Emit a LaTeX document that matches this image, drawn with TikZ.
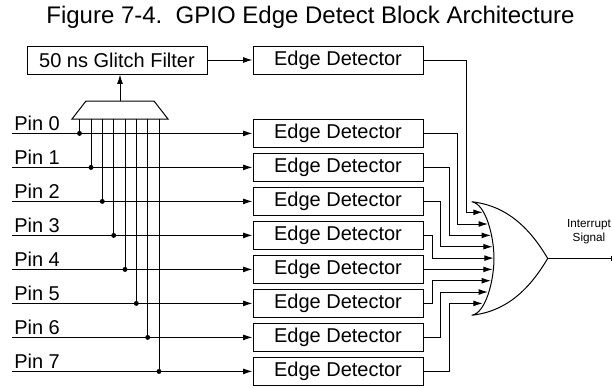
\documentclass[tikz,border=0pt]{standalone}
\usepackage{fontspec}
\setmainfont{Liberation Sans}
\usetikzlibrary{arrows.meta}
\tikzset{
  block/.style={draw, line width=0.75pt, minimum width=127.5pt, minimum height=21pt, inner sep=0pt, font=\fontsize{15}{18}\selectfont},
  pinlabel/.style={anchor=base west, inner sep=0pt, font=\fontsize{15}{18}\selectfont},
  tap/.style={circle, fill=black, inner sep=0pt, minimum size=3.7pt},
  sig/.style={line width=0.75pt, >={Latex[length=7pt,width=4.4pt]}, ->},
  wire/.style={line width=0.75pt}
}
\begin{document}
\begin{tikzpicture}[x=0.75pt,y=-0.75pt]
  \useasboundingbox (0,0) rectangle (612,387);
  \node [anchor=base, inner sep=0pt, font=\fontsize{18}{21}\selectfont] (title) at (310.5,23.5) {Figure 7-4.\ \ GPIO Edge Detect Block Architecture};
  % filter and its detector
  \node [block, minimum width=135pt] (filter) at (117,60) {50 ns Glitch Filter};
  \node [block] (d) at (338,60) {Edge Detector};
  % detectors
  \node [block] (d0) at (338,133.4) {Edge Detector};
  \node [block] (d1) at (338,167.4) {Edge Detector};
  \node [block] (d2) at (338,201.4) {Edge Detector};
  \node [block] (d3) at (338,235.4) {Edge Detector};
  \node [block] (d4) at (338,269.4) {Edge Detector};
  \node [block] (d5) at (338,303.4) {Edge Detector};
  \node [block] (d6) at (338,337.4) {Edge Detector};
  \node [block] (d7) at (338,371.4) {Edge Detector};
  % pins
  \node [pinlabel] (p0) at (14,130) {Pin 0};
  \node [pinlabel] (p1) at (14,164) {Pin 1};
  \node [pinlabel] (p2) at (14,198) {Pin 2};
  \node [pinlabel] (p3) at (14,232) {Pin 3};
  \node [pinlabel] (p4) at (14,266) {Pin 4};
  \node [pinlabel] (p5) at (14,300) {Pin 5};
  \node [pinlabel] (p6) at (14,334) {Pin 6};
  \node [pinlabel] (p7) at (14,368) {Pin 7};
  \coordinate (s0) at (12,133.4);
  \coordinate (s1) at (12,167.4);
  \coordinate (s2) at (12,201.4);
  \coordinate (s3) at (12,235.4);
  \coordinate (s4) at (12,269.4);
  \coordinate (s5) at (12,303.4);
  \coordinate (s6) at (12,337.4);
  \coordinate (s7) at (12,371.4);
  \draw [sig] (s0) -- (d0.west);
  \draw [sig] (s1) -- (d1.west);
  \draw [sig] (s2) -- (d2.west);
  \draw [sig] (s3) -- (d3.west);
  \draw [sig] (s4) -- (d4.west);
  \draw [sig] (s5) -- (d5.west);
  \draw [sig] (s6) -- (d6.west);
  \draw [sig] (s7) -- (d7.west);
  % mux
  \coordinate (mt) at (120,101);
  \draw [wire] (86,101) -- (154,101) -- (168,119) -- (72,119) -- cycle;
  \draw [sig] (mt) -- (mt |- filter.south);
  \draw [sig] (filter.east) -- (d.west);
  \node [tap] (t0) at (79.5,133.4) {};
  \node [tap] (t1) at (91,167.4) {};
  \node [tap] (t2) at (102.3,201.4) {};
  \node [tap] (t3) at (113.7,235.4) {};
  \node [tap] (t4) at (125,269.4) {};
  \node [tap] (t5) at (136.3,303.4) {};
  \node [tap] (t6) at (147.7,337.4) {};
  \node [tap] (t7) at (159,371.4) {};
  \draw [wire] (t0) -- (t0 |- 0,119);
  \draw [wire] (t1) -- (t1 |- 0,119);
  \draw [wire] (t2) -- (t2 |- 0,119);
  \draw [wire] (t3) -- (t3 |- 0,119);
  \draw [wire] (t4) -- (t4 |- 0,119);
  \draw [wire] (t5) -- (t5 |- 0,119);
  \draw [wire] (t6) -- (t6 |- 0,119);
  \draw [wire] (t7) -- (t7 |- 0,119);
  % or gate
  \coordinate (gtop) at (471.7,201.7);
  \coordinate (gbot) at (471.7,315.3);
  \coordinate (gout) at (547.7,258.4);
  \draw [wire] (gtop) .. controls (500,205) and (525,220) .. (gout)
    .. controls (525,297) and (500,312) .. (gbot)
    .. controls (486,313) and (494,280) .. (494,258.4)
    .. controls (494,237) and (486,204) .. (gtop);
  % gate inputs
  \coordinate (g0) at (482.7,212.3);
  \coordinate (g1) at (488,224);
  \coordinate (g2) at (491,235.4);
  \coordinate (g3) at (492.7,246.7);
  \coordinate (g4) at (493.7,258.1);
  \coordinate (g5) at (492.7,269.4);
  \coordinate (g6) at (491,280.7);
  \coordinate (g7) at (488,292);
  \coordinate (g8) at (482.7,303.4);
  \draw [sig] (d.east) -| (466,212.3) -- (g0);
  \draw [sig] (d0.east) -| (457.3,224) -- (g1);
  \draw [sig] (d1.east) -| (449,235.4) -- (g2);
  \draw [sig] (d2.east) -| (440.3,246.7) -- (g3);
  \draw [sig] (d3.east) -| (432,258.1) -- (g4);
  \draw [sig] (d4.east) -- (g5);
  \draw [sig] (d5.east) -| (432,280.7) -- (g6);
  \draw [sig] (d6.east) -| (440.3,292) -- (g7);
  \draw [sig] (d7.east) -| (449,303.4) -- (g8);
  % output
  \node [align=center, inner sep=0pt, font=\fontsize{8.8}{10.5}\selectfont] (irq) at (589,232) {Interrupt\\Signal};
  \coordinate (out) at (611.5,258.4);
  \draw [line width=0.75pt, -{Bar[width=4pt,line width=0.75pt]}] (gout) -- (out);
\end{tikzpicture}
\end{document}
